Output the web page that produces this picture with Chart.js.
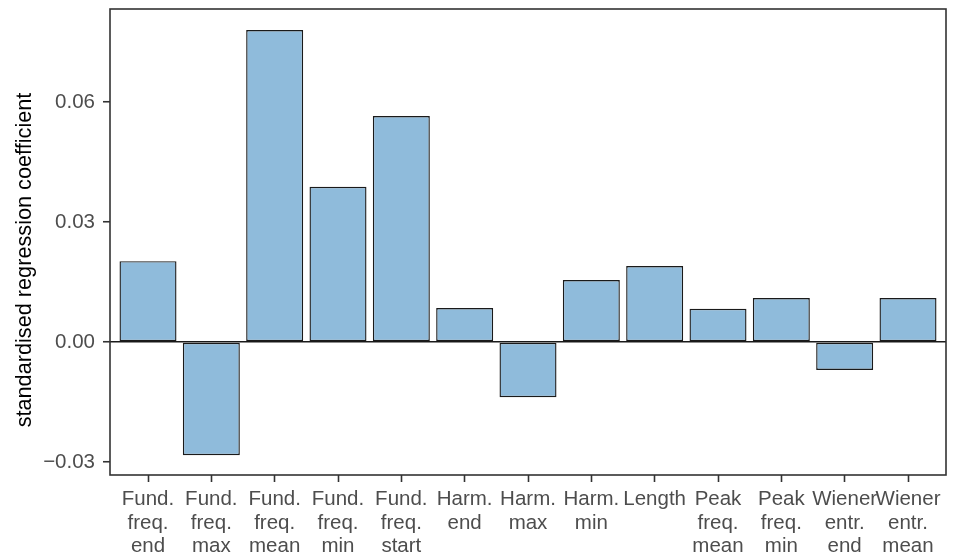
<!DOCTYPE html>
<html>
<head>
<meta charset="utf-8">
<script src="https://cdn.jsdelivr.net/npm/chart.js@4.4.1/dist/chart.umd.min.js"></script>
<style>
  html, body { margin: 0; padding: 0; background: #ffffff; }
  #wrap { width: 955px; height: 554px; position: relative; }
</style>
</head>
<body>
<div id="wrap"><canvas id="chart"></canvas></div>
<script>
// Predictor names, one entry per bar (each split onto several lines)
const predictors = [
  ['Fund.', 'freq.', 'end'],
  ['Fund.', 'freq.', 'max'],
  ['Fund.', 'freq.', 'mean'],
  ['Fund.', 'freq.', 'min'],
  ['Fund.', 'freq.', 'start'],
  ['Harm.', 'end'],
  ['Harm.', 'max'],
  ['Harm.', 'min'],
  ['Length'],
  ['Peak', 'freq.', 'mean'],
  ['Peak', 'freq.', 'min'],
  ['Wiener', 'entr.', 'end'],
  ['Wiener', 'entr.', 'mean']
];

// Standardised regression coefficient of each predictor
const coefficients = [
  0.0202, -0.0283, 0.0780, 0.0388, 0.0565, 0.0085, -0.0138,
  0.0155, 0.0190, 0.0083, 0.0110, -0.0070, 0.0110
];

// Value ticks on the y axis
const yTicks = [-0.03, 0.00, 0.03, 0.06];

const yTitle = 'standardised regression coefficient';

const positions = predictors.map((_, i) => i + 1);
const points = positions.map((x, i) => ({ x: x, y: coefficients[i] }));

const FONT = "'Liberation Sans', Arial, Helvetica, sans-serif";
const INK = '#333333';

// Frame around the plotting panel, plus the rotated y-axis title
const panelBorder = {
  id: 'panelBorder',
  afterDraw(chart) {
    const a = chart.chartArea;
    const ctx = chart.ctx;
    ctx.save();
    ctx.strokeStyle = INK;
    ctx.lineWidth = 1.6;
    ctx.strokeRect(a.left, a.top, a.right - a.left, a.bottom - a.top);

    ctx.translate(25, 260);
    ctx.rotate(-Math.PI / 2);
    ctx.fillStyle = '#000000';
    ctx.font = '21.7px ' + FONT;
    ctx.textAlign = 'center';
    ctx.textBaseline = 'middle';
    ctx.fillText(yTitle, 0, 0);
    ctx.restore();
  }
};

new Chart(document.getElementById('chart'), {
  type: 'bar',
  data: {
    datasets: [{
      data: points,
      backgroundColor: '#8fbbdb',
      borderColor: '#1a1a1a',
      borderWidth: 1.4,
      borderSkipped: false,
      barPercentage: 0.9,
      categoryPercentage: 1.0
    }]
  },
  options: {
    responsive: true,
    maintainAspectRatio: false,
    animation: false,
    layout: { padding: { top: 9, right: 9, left: 0, bottom: 0 } },
    plugins: {
      legend: { display: false },
      tooltip: { enabled: false }
    },
    scales: {
      x: {
        type: 'linear',
        offset: false,
        min: 0.4,
        max: 13.6,
        afterBuildTicks(scale) {
          scale.ticks = positions.map(v => ({ value: v }));
        },
        afterFit(scale) {
          scale.height = 79;
          scale.paddingLeft = 0;
          scale.paddingRight = 0;
        },
        border: { display: false },
        grid: {
          offset: false,
          drawOnChartArea: false,
          drawTicks: true,
          tickLength: 7,
          tickColor: INK,
          tickWidth: 1.6
        },
        ticks: {
          autoSkip: false,
          maxRotation: 0,
          minRotation: 0,
          padding: 6,
          color: '#4d4d4d',
          font: { family: FONT, size: 20.5, lineHeight: 1.14 },
          callback(value) {
            const i = Math.round(value) - 1;
            return predictors[i] || '';
          }
        }
      },
      y: {
        min: -0.03325,
        max: 0.08325,
        afterBuildTicks(scale) {
          scale.ticks = yTicks.map(v => ({ value: v }));
        },
        afterFit(scale) {
          scale.width = 110;
          scale.paddingTop = 0;
          scale.paddingBottom = 0;
        },
        border: { display: false },
        grid: {
          drawTicks: true,
          tickLength: 7,
          tickColor: INK,
          tickWidth: 1.6,
          lineWidth: 1.5,
          color(ctx) {
            return ctx.tick && ctx.tick.value === 0 ? '#1a1a1a' : 'rgba(0,0,0,0)';
          }
        },
        ticks: {
          padding: 8,
          color: '#4d4d4d',
          font: { family: FONT, size: 20.5 },
          callback(value) { return value.toFixed(2).replace('-', '\u2212'); }
        },
        title: { display: false }
      }
    }
  },
  plugins: [panelBorder]
});
</script>
</body>
</html>
